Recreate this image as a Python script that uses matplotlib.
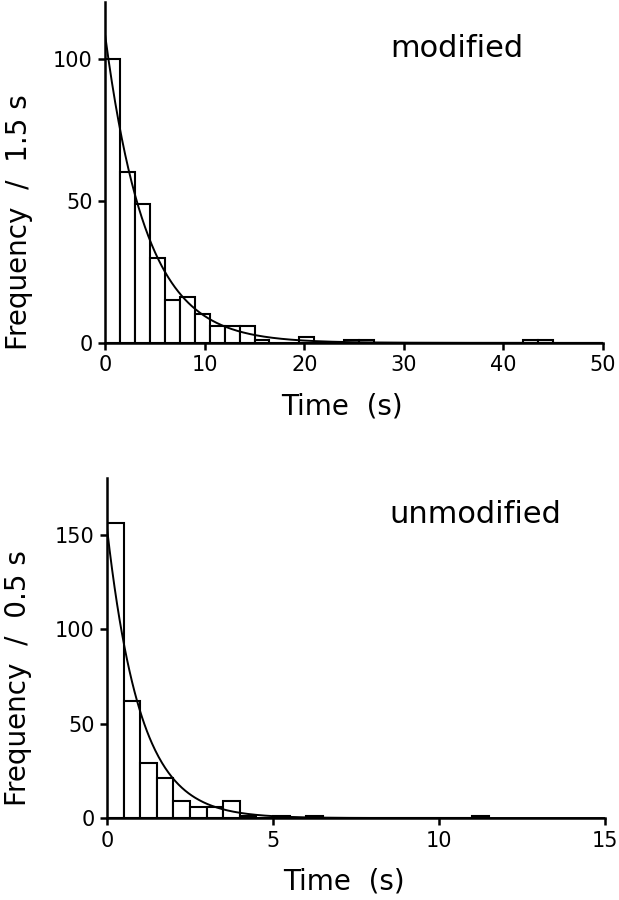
import numpy as np
import matplotlib
matplotlib.use("Agg")
import matplotlib.pyplot as plt

plt.rcParams['font.family'] = ['DejaVu Sans']

# ---------------- data ----------------
# modified: bins of 1.5 s starting at 0
mod_width = 1.5
mod_counts = [100, 60, 49, 30, 15, 16, 10, 6, 6, 6, 1, 0, 0, 2, 0, 0, 1, 1,
              0, 0, 0, 0, 0, 0, 0, 0, 0, 0, 1, 1]
mod_amp = 108.0   # exponential fit
mod_tau = 4.1

# unmodified: bins of 0.5 s starting at 0
unm_width = 0.5
unm_counts = [156, 62, 29, 21, 9, 6, 6, 9, 1, 0, 1, 0, 1, 0, 0, 0, 0, 0,
              0, 0, 0, 0, 1]
unm_amp = 153.0
unm_tau = 1.0


def panel(ax, counts, width, amp, tau, xmax, xticks, ymax, yticks, ylab, tag):
    edges = np.arange(len(counts)) * width
    ax.bar(edges, counts, width=width, align='edge', facecolor='white',
           edgecolor='black', linewidth=1.5, zorder=2)
    t = np.linspace(0, xmax, 600)
    ax.plot(t, amp * np.exp(-t / tau), color='black', lw=1.4, zorder=3)
    ax.set_xlim(0, xmax)
    ax.set_ylim(0, ymax)
    ax.set_xticks(xticks)
    ax.set_yticks(yticks)
    for s in ['top', 'right']:
        ax.spines[s].set_visible(False)
    for s in ['left', 'bottom']:
        ax.spines[s].set_linewidth(1.8)
    ax.tick_params(direction='out', length=5, width=1.8, labelsize=15, pad=4)
    ax.set_xlabel('Time  (s)', fontsize=20)
    ax.set_ylabel(ylab, fontsize=20)
    ax.text(tag[1], tag[2], tag[0], transform=ax.transAxes, fontsize=22,
            ha='left', va='baseline')


fig = plt.figure(figsize=(6.19, 9.0), dpi=100)

ax1 = fig.add_axes([0.170, 0.619, 0.804, 0.379])
panel(ax1, mod_counts, mod_width, mod_amp, mod_tau, 50, [0, 10, 20, 30, 40, 50],
      120, [0, 50, 100], 'Frequency  /  1.5 s', ('modified', 0.572, 0.839))
ax1.xaxis.set_label_coords(0.476, -0.145)
ax1.yaxis.set_label_coords(-0.145, 0.355)

ax2 = fig.add_axes([0.173, 0.091, 0.804, 0.378])
panel(ax2, unm_counts, unm_width, unm_amp, unm_tau, 15, [0, 5, 10, 15],
      180, [0, 50, 100, 150], 'Frequency  /  0.5 s', ('unmodified', 0.568, 0.867))
ax2.xaxis.set_label_coords(0.476, -0.145)
ax2.yaxis.set_label_coords(-0.151, 0.412)

fig.savefig('out.png', dpi=100)
